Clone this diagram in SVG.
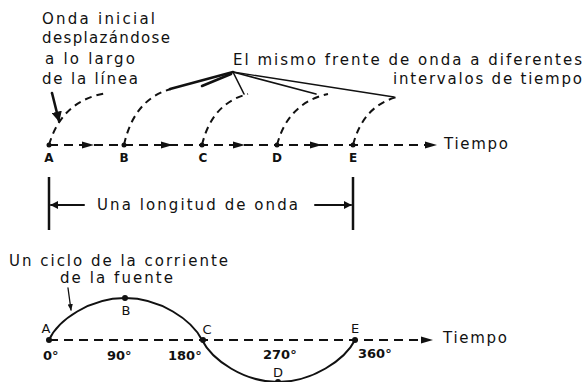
<svg xmlns="http://www.w3.org/2000/svg" width="586" height="382" viewBox="0 0 586 382">
<style>
  .t { font-family: "DejaVu Sans", "Liberation Sans", sans-serif; font-size: 15px; fill: #111; }
  .lbl { font-family: "DejaVu Sans", "Liberation Sans", sans-serif; font-size: 12px; font-weight: bold; fill: #111; text-anchor: middle; }
  .lbl2 { font-family: "DejaVu Sans", "Liberation Sans", sans-serif; font-size: 13px; fill: #111; text-anchor: middle; }
  .deg { font-family: "DejaVu Sans", "Liberation Sans", sans-serif; font-size: 13px; font-weight: bold; fill: #111; }
  .dash { fill: none; stroke: #111; stroke-width: 2; stroke-dasharray: 9 6; }
  .wave { fill: none; stroke: #111; stroke-width: 2; stroke-dasharray: 7 5; }
  .solid { fill: none; stroke: #111; stroke-width: 2; }
  .lead { fill: none; stroke: #111; stroke-linecap: round; }
  .bar { stroke: #111; stroke-width: 2.5; }
  .dot { fill: #111; }
</style>
<defs>
  <path id="tri" d="M-6,-3.5 L6,0 L-6,3.5 Z" fill="#111"/>
  <marker id="ah" viewBox="0 0 10 10" refX="9" refY="5" markerWidth="4" markerHeight="4" orient="auto">
    <path d="M0,0 L10,5 L0,10 Z" fill="#111"/>
  </marker>
  <marker id="ahs" viewBox="0 0 10 10" refX="9" refY="5" markerWidth="5" markerHeight="5" orient="auto">
    <path d="M0,1 L10,5 L0,9 Z" fill="#111"/>
  </marker>
</defs>

<g id="texts-top">
  <text class="t" x="42" y="24" textLength="113" lengthAdjust="spacing">Onda inicial</text>
  <text class="t" x="42" y="43" textLength="128" lengthAdjust="spacing">desplazándose</text>
  <text class="t" x="45" y="64" textLength="90" lengthAdjust="spacing">a lo largo</text>
  <text class="t" x="42" y="84" textLength="96" lengthAdjust="spacing">de la línea</text>
  <text class="t" x="233" y="65" textLength="349" lengthAdjust="spacing">El mismo frente de onda a diferentes</text>
  <text class="t" x="393" y="84" textLength="189" lengthAdjust="spacing">intervalos de tiempo</text>
</g>

<g id="connectors">
  <!-- top time axis -->
  <line class="dash" x1="49" y1="145" x2="428" y2="145"/>
  <use href="#tri" x="88" y="145"/>
  <use href="#tri" x="167" y="145"/>
  <use href="#tri" x="239" y="145"/>
  <use href="#tri" x="316" y="145"/>
  <use href="#tri" x="431" y="145"/>
  <!-- wavefront curves -->
  <path class="wave" d="M49,145 Q62,100 107,93"/>
  <path class="wave" d="M124,145 Q134,99 171,89"/>
  <path class="wave" d="M202,145 Q212,103 248,94"/>
  <path class="wave" d="M277,145 Q288,103 328,94"/>
  <path class="wave" d="M353,145 Q363,106 397,97"/>
  <!-- leaders -->
  <line class="lead" stroke-width="2.6" x1="52" y1="93" x2="59" y2="121" marker-end="url(#ah)"/>
  <line class="lead" stroke-width="2.6" x1="233" y1="72" x2="170" y2="89"/>
  <line class="lead" stroke-width="2.6" x1="231" y1="74" x2="202" y2="86"/>
  <line class="lead" stroke-width="1.6" x1="233" y1="72" x2="244" y2="94"/>
  <line class="lead" stroke-width="1.6" x1="233" y1="72" x2="316" y2="94"/>
  <line class="lead" stroke-width="1.3" x1="233" y1="72" x2="394" y2="97"/>
  <!-- wavelength bars -->
  <line class="bar" x1="49" y1="177" x2="49" y2="230"/>
  <line class="bar" x1="353" y1="177" x2="353" y2="230"/>
  <line class="lead" stroke-width="2" x1="84" y1="205" x2="51" y2="205" marker-end="url(#ah)"/>
  <line class="lead" stroke-width="2" x1="315" y1="205" x2="351" y2="205" marker-end="url(#ah)"/>
  <!-- bottom axis -->
  <line class="dash" x1="49" y1="340" x2="423" y2="340"/>
  <use href="#tri" x="427" y="340"/>
  <!-- sine -->
  <path class="solid" d="M49,340 C58,320 90,298 125,298 C160,298 192,320 202,340 C212,360 244,382 278,382 C312,382 345,360 355,340"/>
  <line class="lead" stroke-width="1.3" x1="68" y1="288" x2="71" y2="310" marker-end="url(#ahs)"/>
</g>

<g id="points-top">
  <circle class="dot" cx="49" cy="145" r="2.5"/>
  <circle class="dot" cx="124" cy="145" r="2.5"/>
  <circle class="dot" cx="202" cy="145" r="2.5"/>
  <circle class="dot" cx="277" cy="145" r="2.5"/>
  <circle class="dot" cx="353" cy="145" r="2.5"/>
  <text class="lbl" x="49" y="162">A</text>
  <text class="lbl" x="124" y="162">B</text>
  <text class="lbl" x="203" y="162">C</text>
  <text class="lbl" x="277" y="162">D</text>
  <text class="lbl" x="353" y="162">E</text>
  <text class="t" x="444" y="149" textLength="64" lengthAdjust="spacing">Tiempo</text>
</g>

<g id="wavelength">
  <text class="t" x="97" y="210" textLength="201" lengthAdjust="spacing">Una longitud de onda</text>
</g>

<g id="cycle">
  <text class="t" x="9" y="266" textLength="219" lengthAdjust="spacing">Un ciclo de la corriente</text>
  <text class="t" x="60" y="283" textLength="113" lengthAdjust="spacing">de la fuente</text>
  <circle class="dot" cx="49" cy="340" r="3"/>
  <circle class="dot" cx="125" cy="298" r="3"/>
  <circle class="dot" cx="203" cy="340" r="3"/>
  <circle class="dot" cx="278" cy="382" r="3"/>
  <circle class="dot" cx="355" cy="340" r="3"/>
  <text class="lbl2" x="46" y="333">A</text>
  <text class="lbl2" x="126" y="315">B</text>
  <text class="lbl2" x="207" y="334">C</text>
  <text class="lbl2" x="278" y="377">D</text>
  <text class="lbl2" x="355" y="333">E</text>
  <text class="deg" x="43" y="360">0°</text>
  <text class="deg" x="107" y="360">90°</text>
  <text class="deg" x="168" y="360">180°</text>
  <text class="deg" x="263" y="359">270°</text>
  <text class="deg" x="358" y="358">360°</text>
  <text class="t" x="443" y="343" textLength="64" lengthAdjust="spacing">Tiempo</text>
</g>
</svg>
